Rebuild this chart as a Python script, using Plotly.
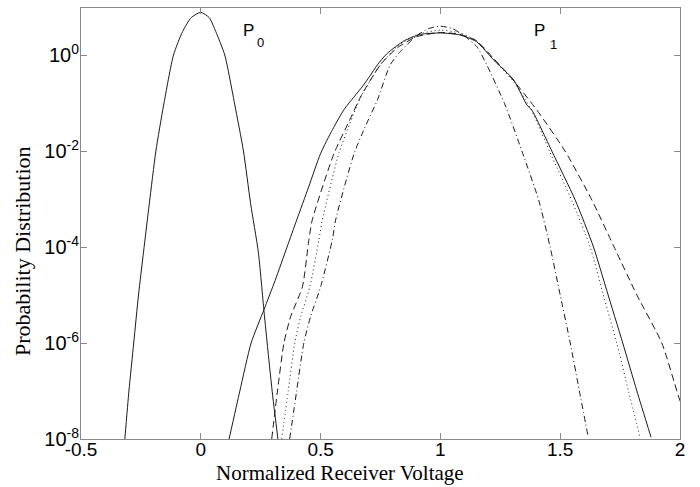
import numpy as np
import plotly.graph_objects as go

# ---- data (x = normalized voltage, values = log10 of probability) ----
p0_x = [-0.317, -0.30, -0.28, -0.26, -0.239, -0.215, -0.1875, -0.155, -0.114, -0.076, -0.04, 0.0,
        0.035, 0.0625, 0.10, 0.142, 0.178, 0.208, 0.24, 0.264, 0.28, 0.30, 0.322]
p0_log = [-8.0, -7.0, -6.0, -5.0, -4.1, -3.1, -2.0, -1.04, 0.0, 0.49, 0.78, 0.89,
          0.78, 0.49, 0.0, -1.04, -2.0, -3.1, -4.1, -5.35, -6.15, -7.1, -8.0]

solid_x = [0.118, 0.163, 0.21, 0.264, 0.31, 0.36, 0.40, 0.45, 0.50, 0.55, 0.60, 0.674, 0.708, 0.736,
           0.778, 0.85, 0.917, 1.0, 1.08, 1.15, 1.222, 1.306, 1.361, 1.382, 1.465, 1.5625,
           1.639, 1.694, 1.761, 1.82, 1.879]
solid_log = [-8.0, -7.0, -6.0, -5.3, -4.7, -4.0, -3.44, -2.75, -2.05, -1.55, -1.12, -0.66, -0.42, -0.21,
             0.035, 0.3, 0.43, 0.46, 0.42, 0.28, -0.1, -0.52, -1.04, -1.15, -2.0, -3.02,
             -4.0, -4.9, -6.0, -7.0, -7.96]

dash_x = [0.296, 0.32, 0.347, 0.375, 0.424, 0.451, 0.465, 0.556, 0.62, 0.667, 0.75, 0.82, 0.9,
          1.0, 1.08, 1.15, 1.222, 1.30, 1.403, 1.52, 1.632, 1.725, 1.82, 1.924, 1.992, 2.04]
dash_log = [-8.0, -7.0, -6.0, -5.45, -4.83, -3.85, -3.44, -2.05, -1.37, -0.87, -0.2, 0.15, 0.38,
            0.47, 0.43, 0.3, -0.07, -0.5, -1.15, -2.0, -3.02, -4.0, -5.0, -6.0, -7.08, -7.8]

dot_x = [0.3375, 0.365, 0.392, 0.417, 0.455, 0.493, 0.507, 0.576, 0.62, 0.67, 0.75, 0.82, 0.9,
         1.0, 1.08, 1.15, 1.222, 1.30, 1.38, 1.455, 1.55, 1.625, 1.68, 1.736, 1.785, 1.833]
dot_log = [-8.0, -7.0, -6.0, -5.45, -4.83, -3.85, -3.44, -2.05, -1.45, -0.85, -0.2, 0.18, 0.42,
           0.52, 0.46, 0.3, -0.1, -0.52, -1.15, -2.0, -3.05, -4.0, -5.0, -6.0, -7.0, -7.96]

dashdot_x = [0.371, 0.40, 0.43, 0.458, 0.50, 0.549, 0.5625, 0.64, 0.69, 0.736, 0.79, 0.826, 0.9,
             0.95, 1.0, 1.05, 1.1, 1.153, 1.194, 1.27, 1.34, 1.41, 1.458, 1.50, 1.542, 1.58, 1.617]
dashdot_log = [-8.0, -7.0, -6.0, -5.45, -4.83, -3.85, -3.44, -2.05, -1.45, -0.95, -0.21, 0.035, 0.4,
               0.55, 0.6, 0.55, 0.4, 0.17, -0.21, -1.04, -2.0, -3.02, -4.0, -5.0, -6.0, -7.0, -7.96]

x_ticks = [-0.5, 0, 0.5, 1, 1.5, 2]
x_tick_labels = ["-0.5", "0", "0.5", "1", "1.5", "2"]
y_tick_exps = [0, -2, -4, -6, -8]

# ---- figure ----
fig = go.Figure()
series = [
    (p0_x, p0_log, "solid"),
    (solid_x, solid_log, "solid"),
    (dash_x, dash_log, "7px,4px"),
    (dot_x, dot_log, "1px,3px"),
    (dashdot_x, dashdot_log, "6px,3px,1px,3px"),
]
for xs, logs, dash in series:
    fig.add_trace(go.Scatter(
        x=xs, y=np.power(10.0, np.array(logs)), mode="lines",
        line=dict(color="#1a1a1a", width=1, dash=dash, shape="spline", smoothing=0.6),
        showlegend=False, cliponaxis=True))

axis_common = dict(showline=True, linecolor="#8a8a8a", linewidth=1, mirror="ticks",
                   ticks="inside", ticklen=6, tickcolor="#8a8a8a", showgrid=False,
                   zeroline=False)

fig.update_xaxes(range=[-0.5, 2], tickvals=x_ticks, ticktext=x_tick_labels,
                 ticklabelstandoff=-7,
                 tickfont=dict(family="Liberation Sans, Arial, sans-serif", size=19, color="black"),
                 **axis_common)
fig.update_yaxes(type="log", range=[-8, 0.98],
                 tickvals=[10.0 ** e for e in y_tick_exps],
                 ticktext=["10<sup>%d</sup>" % e for e in y_tick_exps],
                 ticklabelstandoff=-3,
                 tickfont=dict(family="Liberation Sans, Arial, sans-serif", size=20, color="black"),
                 **axis_common)

serif = "Liberation Serif, Times New Roman, serif"
sans = "Liberation Sans, Arial, sans-serif"
annotations = [
    dict(text="Normalized Receiver Voltage", xref="paper", yref="paper", x=0.432, y=-0.08,
         xanchor="center", yanchor="middle", showarrow=False,
         font=dict(family=serif, size=21, color="black")),
    dict(text="Probability Distribution", xref="paper", yref="paper", x=-0.0985, y=0.436,
         textangle=-90, xanchor="center", yanchor="middle", showarrow=False,
         font=dict(family=serif, size=22, color="black")),
    dict(text="P", x=0.197, y=0.52, xref="x", yref="y", showarrow=False,
         font=dict(family=sans, size=17, color="black")),
    dict(text="0", x=0.251, y=0.27, xref="x", yref="y", showarrow=False,
         font=dict(family=sans, size=13, color="black")),
    dict(text="P", x=1.414, y=0.52, xref="x", yref="y", showarrow=False,
         font=dict(family=sans, size=17, color="black")),
    dict(text="1", x=1.470, y=0.23, xref="x", yref="y", showarrow=False,
         font=dict(family=sans, size=13, color="black")),
]

fig.update_layout(
    width=700, height=487,
    margin=dict(l=81, r=20, t=8, b=48),
    paper_bgcolor="white", plot_bgcolor="white",
    annotations=annotations,
)

fig.write_html("out.html")
